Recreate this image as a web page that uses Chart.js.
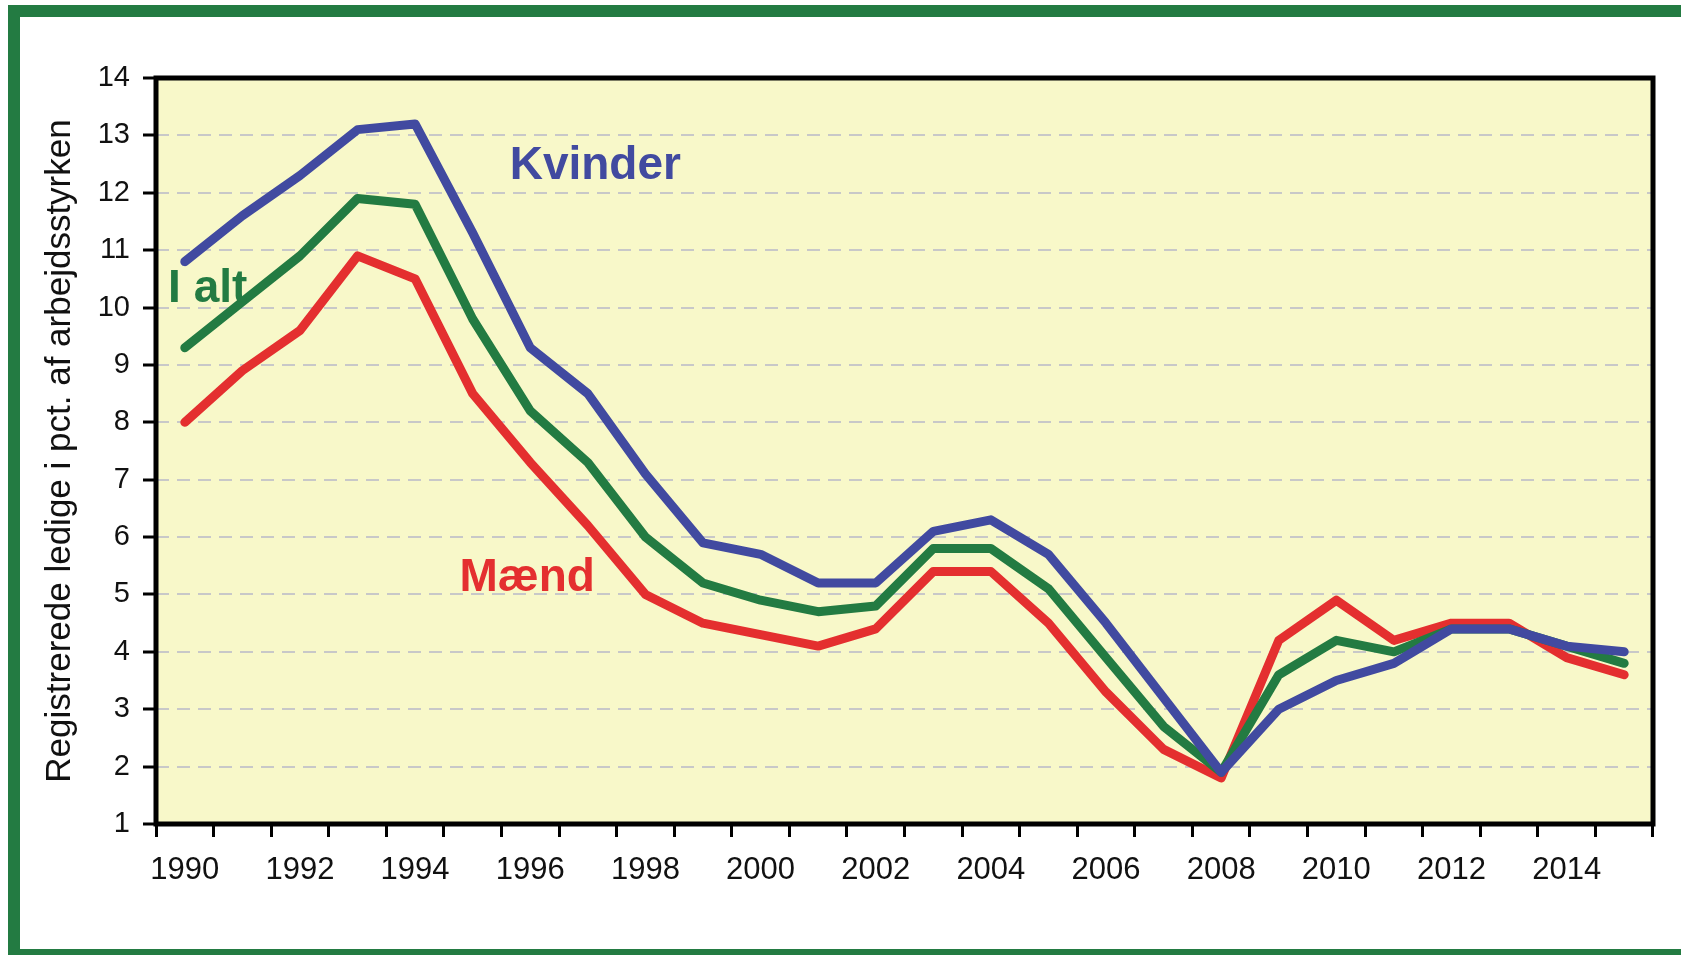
<!DOCTYPE html>
<html>
<head>
<meta charset="utf-8">
<script src="https://cdn.jsdelivr.net/npm/chart.js@4/dist/chart.umd.min.js"></script>
<style>
  html, body { margin: 0; padding: 0; background: #ffffff; overflow: hidden; width: 1681px; height: 955px; }
  #frame { position: absolute; left: 8px; top: 5px; width: 2000px; height: 956px; box-sizing: border-box;
           border-left: 12px solid #237b42; border-top: 12px solid #237b42; border-bottom: 12px solid #237b42; }
  #c { position: absolute; left: 0; top: 0; }
</style>
</head>
<body>
<div id="frame"></div>
<canvas id="c" width="1681" height="955"></canvas>
<script>
// ---- data ----
const years = ['1990','1991','1992','1993','1994','1995','1996','1997','1998','1999','2000','2001','2002',
               '2003','2004','2005','2006','2007','2008','2009','2010','2011','2012','2013','2014','2015'];
const kvinder = [10.8, 11.6, 12.3, 13.1, 13.2, 11.3, 9.3, 8.5, 7.1, 5.9, 5.7, 5.2, 5.2,
                 6.1, 6.3, 5.7, 4.5, 3.2, 1.9, 3.0, 3.5, 3.8, 4.4, 4.4, 4.1, 4.0];
const iAlt    = [9.3, 10.1, 10.9, 11.9, 11.8, 9.8, 8.2, 7.3, 6.0, 5.2, 4.9, 4.7, 4.8,
                 5.8, 5.8, 5.1, 3.9, 2.7, 1.9, 3.6, 4.2, 4.0, 4.4, 4.4, 4.1, 3.8];
const maend   = [8.0, 8.9, 9.6, 10.9, 10.5, 8.5, 7.3, 6.2, 5.0, 4.5, 4.3, 4.1, 4.4,
                 5.4, 5.4, 4.5, 3.3, 2.3, 1.8, 4.2, 4.9, 4.2, 4.5, 4.5, 3.9, 3.6];
const seriesNames = ['Kvinder', 'I alt', 'Mænd'];
const yTitle = 'Registrerede ledige i pct. af arbejdsstyrken';
const yMin = 1, yMax = 14, yStep = 1;

// ---- styles ----
const colors = ['#414aa0', '#237b42', '#e42f2f'];
const seriesLabelPlacement = [
  { x: 7.13, y: 12.24, align: 'center' },
  { x: -0.29, y: 10.10, align: 'left' },
  { x: 4.77, y: 5.06, align: 'left' }
];
const FONT = '"Liberation Sans", Arial, sans-serif';

const plotFrame = {
  id: 'plotFrame',
  beforeDraw(chart) {
    const a = chart.chartArea, ctx = chart.ctx;
    ctx.save();
    ctx.fillStyle = '#f8f8c9';
    ctx.fillRect(a.left, a.top, a.right - a.left, a.bottom - a.top);
    ctx.restore();
  },
  afterDatasetsDraw(chart) {
    const a = chart.chartArea, ctx = chart.ctx;
    ctx.save();
    ctx.strokeStyle = '#000000';
    ctx.lineWidth = 5;
    ctx.strokeRect(a.left, a.top, a.right - a.left, a.bottom - a.top);
    ctx.restore();
  },
  afterDraw(chart) {
    const ctx = chart.ctx, xs = chart.scales.x, ys = chart.scales.y;
    ctx.save();
    ctx.font = 'bold 46px ' + FONT;
    ctx.textBaseline = 'alphabetic';
    seriesNames.forEach((name, i) => {
      const p = seriesLabelPlacement[i];
      ctx.fillStyle = colors[i];
      ctx.textAlign = p.align;
      ctx.fillText(name, xs.getPixelForValue(p.x), ys.getPixelForValue(p.y));
    });
    ctx.restore();
  }
};

const seriesData = [kvinder, iAlt, maend];
new Chart(document.getElementById('c'), {
  type: 'line',
  data: {
    labels: years,
    datasets: seriesData.map((d, i) => ({
      label: seriesNames[i],
      data: d,
      borderColor: colors[i],
      backgroundColor: colors[i],
      borderWidth: 9,
      pointRadius: 0,
      tension: 0,
      borderCapStyle: 'round',
      borderJoinStyle: 'round',
      fill: false
    }))
  },
  options: {
    responsive: false,
    animation: false,
    layout: { padding: { left: 0, top: 78, right: 28, bottom: 0 } },
    plugins: { legend: { display: false }, tooltip: { enabled: false } },
    scales: {
      x: {
        offset: true,
        afterFit(s) { s.height = 131; },
        grid: { display: true, offset: true, drawOnChartArea: false, drawTicks: true,
                tickLength: 13, tickColor: '#000000', tickWidth: 3 },
        border: { display: false },
        ticks: {
          autoSkip: false, maxRotation: 0, minRotation: 0, padding: 15,
          color: '#111111', font: { family: FONT, size: 31 },
          callback(v, i) { return i % 2 === 0 ? years[i] : ''; }
        }
      },
      y: {
        min: yMin, max: yMax,
        afterFit(s) { s.width = 156; },
        grid: { display: true, color: '#c8c8c8', lineWidth: 2, drawTicks: true,
                tickLength: 13, tickColor: '#000000', tickWidth: 3, tickBorderDash: [] },
        border: { display: false, dash: [13, 8] },
        ticks: { stepSize: yStep, padding: 13, color: '#111111', font: { family: FONT, size: 29 } },
        title: { display: true, text: yTitle, color: '#111111', font: { family: FONT, size: 35 },
                 padding: { top: 39, bottom: 0 } }
      }
    }
  },
  plugins: [plotFrame]
});
</script>
</body>
</html>
